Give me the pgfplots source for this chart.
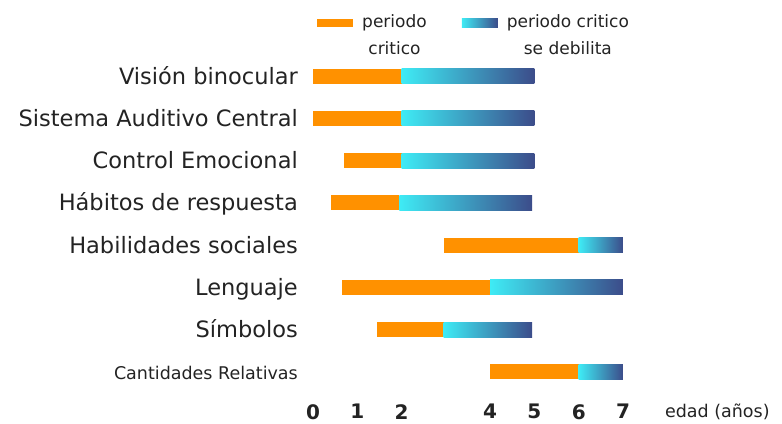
\documentclass[border=0pt]{standalone}
\usepackage{fontspec}
\setmainfont{DejaVu Sans}
\usepackage{pgfplots}
\usepackage{pgfplotstable}
\pgfplotsset{compat=1.18}

\definecolor{naranja}{RGB}{255,145,0}
\definecolor{cianclaro}{RGB}{62,235,245}
\definecolor{azuloscuro}{RGB}{60,76,138}
\definecolor{texto}{RGB}{35,35,35}

% fila: 8 = arriba ... 1 = abajo; inicio / fin del periodo critico / fin
\pgfplotstableread{
fila inicio medio fin
8 0    2    5
7 0    2    5
6 0.7  2    5
5 0.4  1.95 4.95
4 2.95 6    7
3 0.65 4    7
2 1.45 2.95 4.95
1 4    6    7
}\periodos

% cada tramo es un rectangulo que empieza en el punto y mide \largo anios
% (1 anio = 310pt/7)
\pgfdeclareplotmark{tramonaranja}{%
  \fill[naranja, draw=none] (0pt,-7.5pt) rectangle (\largo*44.2857pt,7.5pt);}
\pgfdeclareplotmark{tramoazul}{%
  \shade[draw=none, left color=cianclaro, right color=azuloscuro]
    (0pt,-7.5pt) rectangle (\largo*44.2857pt,7.5pt);}

\begin{document}
\begin{tikzpicture}
\begin{axis}[
  name=ax,
  at={(0,0)}, anchor=south west,
  scale only axis, width=310pt, height=338pt,
  xmin=0, xmax=7, ymin=0.5, ymax=8.5,
  clip=false,
  axis line style={draw=none},
  major tick length=0pt,
  xtick={0,1,2,4,5,6,7},
  ytick={1,...,8},
  yticklabels={{\fontsize{17.5}{20}\selectfont Cantidades Relativas},
    Símbolos, Lenguaje, Habilidades sociales, Hábitos de respuesta,
    Control Emocional, Sistema Auditivo Central, Visión binocular},
  /pgf/number format/assume math mode=true,
  tick label style={text=texto},
  yticklabel style={font=\fontsize{22.5}{26}\selectfont, anchor=base east,
    inner sep=0pt, xshift=-15pt, yshift=-8pt},
  xticklabel style={font=\fontsize{20}{24}\selectfont\bfseries, anchor=north,
    inner sep=0pt, yshift=-11pt},
  xlabel={edad (años)},
  xlabel style={at={(axis description cs:1.135,0)}, anchor=north west,
    inner sep=0pt, yshift=-11pt, font=\fontsize{17.5}{20}\selectfont, text=texto},
  legend columns=2,
  legend style={at={(axis description cs:0.013,1)}, anchor=north west,
    yshift=47pt, draw=none, fill=none, inner sep=0pt,
    font=\fontsize{17}{27}\selectfont, text=texto,
    nodes={inner sep=0pt, anchor=base west},
    /tikz/every odd column/.style={column sep=9pt},
    /tikz/every even column/.style={column sep=35pt}},
]
\addplot[only marks, mark=tramonaranja, mark options={draw=none},
  visualization depends on={\thisrow{medio}-\thisrow{inicio} \as \largo},
  legend image code/.code={\fill[naranja, draw=none]
    (0pt,0pt) rectangle (36pt,8.5pt);}]
  table[x=inicio, y=fila] {\periodos};
\addlegendentry{\begin{tabular}[t]{@{}c@{}}periodo\\critico\end{tabular}}
\addplot[only marks, mark=tramoazul, mark options={draw=none},
  visualization depends on={\thisrow{fin}-\thisrow{medio} \as \largo},
  legend image code/.code={\shade[draw=none, left color=cianclaro,
    right color=azuloscuro] (0pt,0pt) rectangle (36pt,8.5pt);}]
  table[x=medio, y=fila] {\periodos};
\addlegendentry{\begin{tabular}[t]{@{}c@{}}periodo critico\\se debilita\end{tabular}}
\end{axis}
\pgfresetboundingbox
\path[use as bounding box] ([xshift=-313pt,yshift=-31pt]ax.south west)
  rectangle ([xshift=159pt,yshift=55pt]ax.north east);
\end{tikzpicture}
\end{document}
